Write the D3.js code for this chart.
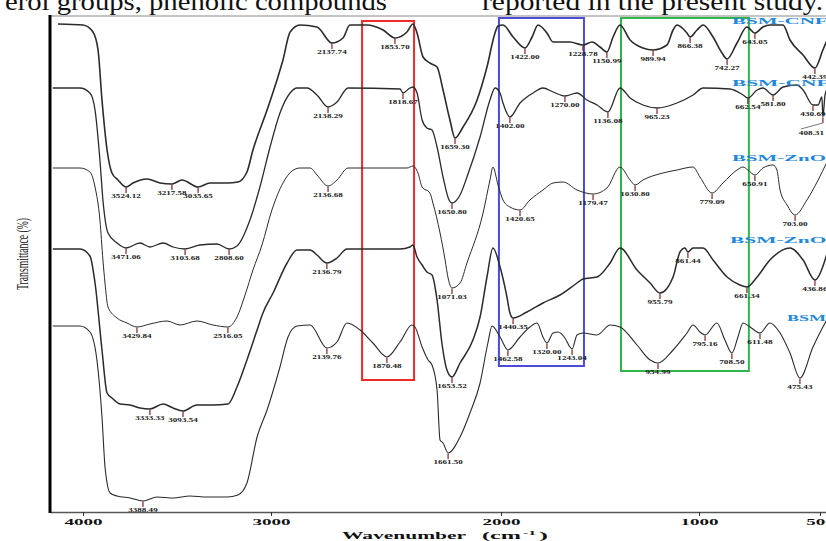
<!DOCTYPE html>
<html>
<head>
<meta charset="utf-8">
<title>FTIR spectra</title>
<style>
body { margin: 0; background: #fff; overflow: hidden; }
svg { display: block; }
.page-text { font: 26px "Liberation Serif", "Times New Roman", serif; fill: #111; }
.spec { fill: none; stroke-linejoin: round; }
.peak { font: bold 6px "Liberation Serif", serif; fill: #222; }
.peak-tick { stroke: #7a2424; stroke-width: 1.2px; }
.sample { font: bold 9px "Liberation Serif", serif; fill: #1f88d9; }
.axis text { font: bold 8px "Liberation Serif", serif; fill: #111; }
.title { font: bold 11px "Liberation Serif", serif; fill: #111; }
</style>
</head>
<body>
<script src="https://cdn.jsdelivr.net/npm/d3@7"></script>
<script>

// axis ticks (wavenumber, cm-1)
var xTicks = [4000, 3000, 2000, 1000, 500];

// sample names, where each name starts (wavenumber) and its level
var sampleNames = ["BSM-CNFs", "BSM-CNFs-ZnO", "BSM-ZnONPs", "BSM-ZnO-CNFs", "BSM"];
var nameAt = [864, 864, 864, 872, 636];
var nameLevel = [97.6, 85.2, 70.2, 53.8, 38.2];

// spectra: [wavenumber, transmittance (arbitrary, stacked)]
var spectrumA = [[4133,97.6],[4000,97.4],[3947,96.0],[3920,92.4],[3899,82.4],[3872,72.4],[3846,67.8],[3814,66.4],[3771,65.0],[3734,65.8],[3660,66.6],[3590,65.8],[3527,65.6],[3473,66.4],[3388,65.0],[3324,65.8],[3234,65.8],[3176,66.0],[3128,68.0],[3096,72.4],[3021,80.4],[2974,86.4],[2948,90.4],[2917,96.0],[2874,97.4],[2800,97.0],[2735,93.8],[2687,94.8],[2657,97.4],[2583,97.4],[2513,96.4],[2461,94.8],[2409,96.0],[2383,97.6],[2365,95.8],[2339,91.0],[2309,89.8],[2278,89.0],[2252,84.4],[2222,78.4],[2200,74.8],[2165,77.0],[2104,82.4],[2061,89.0],[2026,95.8],[2013,97.2],[1990,97.4],[1939,95.0],[1879,92.8],[1843,95.0],[1813,97.4],[1768,95.8],[1737,94.0],[1652,94.0],[1586,93.4],[1540,94.0],[1500,93.0],[1465,92.0],[1434,95.0],[1399,97.4],[1348,94.4],[1283,92.8],[1232,92.4],[1162,93.4],[1131,96.4],[1111,97.4],[1061,95.8],[1045,95.0],[1010,96.4],[983,97.4],[942,95.0],[905,91.8],[884,90.6],[843,93.8],[802,97.0],[769,95.8],[736,97.0],[707,97.4],[653,97.4],[624,94.4],[570,91.4],[521,88.8],[488,92.4],[467,94.8]];

var spectrumB = [[4160,84.8],[4016,84.8],[3963,83.8],[3936,80.4],[3910,70.4],[3894,62.4],[3867,55.8],[3819,53.8],[3771,52.8],[3697,53.8],[3644,53.0],[3574,53.8],[3521,53.0],[3457,52.6],[3378,53.4],[3287,53.6],[3223,52.6],[3181,53.2],[3112,58.4],[3059,65.0],[3005,73.0],[2961,79.8],[2917,83.8],[2887,84.8],[2843,84.8],[2800,83.4],[2752,81.0],[2713,82.0],[2665,84.8],[2439,84.6],[2426,83.8],[2396,84.8],[2383,85.0],[2365,83.8],[2343,78.4],[2322,76.8],[2300,76.4],[2278,73.0],[2252,67.0],[2226,62.4],[2213,61.8],[2178,63.4],[2148,67.0],[2091,75.0],[2048,82.4],[2026,84.8],[2004,83.8],[1990,81.8],[1955,79.0],[1904,81.8],[1869,83.0],[1838,83.8],[1788,84.8],[1737,84.0],[1677,83.2],[1616,83.8],[1566,82.4],[1515,81.4],[1460,80.0],[1399,84.8],[1348,82.8],[1283,81.4],[1212,80.8],[1111,81.8],[1030,83.4],[983,84.8],[872,84.6],[818,83.4],[798,82.8],[760,84.4],[736,84.8],[694,83.4],[653,85.0],[595,85.4],[570,84.4],[529,81.4],[508,81.4],[492,83.0],[488,79.0],[479,83.4],[467,84.8]];

var spectrumC = [[4160,68.8],[4016,68.8],[3963,68.0],[3936,65.0],[3910,58.4],[3894,50.4],[3883,45.8],[3867,41.0],[3819,38.8],[3766,37.8],[3713,37.0],[3644,37.6],[3553,38.2],[3484,37.4],[3394,38.2],[3309,37.4],[3229,37.0],[3181,39.0],[3138,43.4],[3096,48.4],[3048,53.4],[2996,60.4],[2948,65.8],[2909,68.2],[2874,68.8],[2830,68.8],[2800,67.4],[2752,65.2],[2713,66.4],[2665,68.8],[2409,68.8],[2383,69.2],[2361,67.8],[2343,65.0],[2309,63.8],[2296,61.8],[2265,55.8],[2243,50.4],[2230,46.8],[2213,44.8],[2178,45.8],[2148,49.8],[2078,59.8],[2048,66.4],[2035,69.0],[2013,65.4],[1990,62.4],[1955,61.0],[1904,60.4],[1854,62.4],[1788,64.4],[1737,65.8],[1687,66.0],[1616,64.4],[1535,63.6],[1465,64.8],[1399,69.0],[1348,66.4],[1323,65.4],[1283,66.4],[1182,67.8],[1111,68.4],[1030,69.0],[996,67.0],[946,63.8],[901,65.8],[843,68.4],[818,69.0],[798,68.4],[769,67.4],[736,68.8],[694,69.4],[678,68.4],[665,64.4],[636,61.4],[603,59.4],[554,62.4],[512,66.0],[467,70.4]];

var spectrumD = [[4160,52.6],[4016,52.6],[3963,51.2],[3936,45.8],[3899,32.4],[3872,23.8],[3846,22.8],[3803,21.6],[3750,21.4],[3697,20.8],[3644,20.6],[3574,21.6],[3521,20.8],[3468,20.2],[3394,21.4],[3309,21.4],[3229,21.6],[3181,25.0],[3128,30.4],[3074,36.4],[3043,39.8],[2991,43.8],[2930,49.8],[2887,52.4],[2830,52.4],[2800,51.4],[2757,49.8],[2713,50.8],[2670,52.6],[2439,52.6],[2396,53.0],[2383,53.4],[2365,51.0],[2343,49.4],[2322,48.0],[2300,47.4],[2278,42.4],[2257,33.8],[2235,28.4],[2213,27.0],[2178,29.8],[2122,34.4],[2091,39.0],[2061,47.0],[2035,52.8],[2004,49.0],[1970,43.0],[1955,39.8],[1939,38.8],[1869,40.0],[1788,41.8],[1702,43.4],[1616,45.8],[1586,46.6],[1515,47.0],[1449,49.8],[1399,52.8],[1313,48.4],[1247,45.8],[1197,43.8],[1131,47.0],[1096,52.0],[1071,52.8],[1056,52.0],[1030,52.8],[983,52.8],[942,50.4],[884,47.0],[831,45.4],[802,45.0],[760,47.0],[707,50.4],[624,52.8],[570,50.4],[521,46.4],[479,50.4],[467,52.4]];

var spectrumE = [[4160,37.2],[4016,37.2],[3963,36.0],[3926,30.4],[3899,19.0],[3883,9.0],[3872,5.8],[3856,3.8],[3819,3.2],[3750,2.8],[3681,2.2],[3606,3.0],[3521,2.8],[3431,3.2],[3340,3.0],[3234,3.0],[3176,3.4],[3128,5.8],[3074,15.0],[3021,20.4],[2961,29.0],[2926,35.0],[2887,37.2],[2830,37.4],[2757,32.8],[2713,34.0],[2670,37.8],[2613,36.4],[2557,33.8],[2496,31.0],[2439,34.0],[2387,37.4],[2374,37.0],[2343,33.0],[2317,30.4],[2300,29.4],[2278,24.4],[2265,14.4],[2252,13.8],[2230,11.8],[2178,15.0],[2135,19.8],[2091,25.8],[2057,33.8],[2039,37.2],[2004,35.0],[1965,32.4],[1904,35.0],[1854,37.0],[1818,37.8],[1788,35.0],[1768,33.8],[1737,35.8],[1712,36.0],[1677,34.8],[1652,33.0],[1641,32.6],[1616,35.4],[1586,35.8],[1515,35.4],[1449,37.4],[1399,37.0],[1313,33.4],[1247,30.4],[1207,29.8],[1131,32.4],[1061,35.8],[1030,37.4],[996,36.0],[975,35.4],[926,37.8],[893,34.4],[864,31.8],[839,35.0],[818,37.8],[789,37.0],[748,35.8],[707,37.8],[665,35.8],[624,31.8],[583,26.8],[529,33.0],[488,37.0],[467,38.8]];

// peak annotations: [label, wavenumber, transmittance]
var peaksA = [["3524.12",3771,65.0],["3217.58",3527,65.6],["3035.65",3388,65.0],["2137.74",2735,93.8],["1853.70",2461,94.8],["1659.30",2200,74.8],["1422.00",1879,92.8],["1228.78",1586,93.4],["1150.99",1465,92.0],["989.94",1232,92.4],["866.38",1045,95.0],["742.27",884,90.6],["643.05",769,95.8],["442.39",521,88.8]];
var peaksB = [["3471.06",3771,52.8],["3103.68",3457,52.6],["2808.60",3223,52.6],["2138.29",2752,81.0],["1818.67",2426,83.8],["1650.80",2213,61.8],["1402.00",1955,79.0],["1270.00",1677,83.2],["1136.08",1460,80.0],["965.23",1212,80.8],["662.54",798,82.8],["581.80",694,83.4],["430.69",529,81.4],["408.31",488,79.0]];
var peaksC = [["3429.84",3713,37.0],["2516.05",3229,37.0],["2136.68",2752,65.2],["1071.03",2213,44.8],["1420.65",1904,60.4],["1179.47",1535,63.6],["1030.80",1323,65.4],["779.09",946,63.8],["650.91",769,67.4],["703.00",603,59.4]];
var peaksD = [["3333.33",3644,20.6],["3093.54",3468,20.2],["2136.79",2757,49.8],["1653.52",2213,27.0],["1440.35",1939,38.8],["955.79",1197,43.8],["861.44",1056,52.0],["661.34",802,45.0],["436.86",521,46.4]];
var peaksE = [["3388.49",3681,2.2],["2139.76",2757,32.8],["1870.48",2496,31.0],["1661.50",2230,11.8],["1462.58",1965,32.4],["1320.00",1768,33.8],["1243.04",1641,32.6],["954.99",1207,29.8],["795.16",975,35.4],["708.50",864,31.8],["611.48",748,35.8],["475.43",583,26.8]];

// highlighted regions: [from wn, to wn, top, bottom]
var boxes = [[2604, 2378, 98.2, 26.4], [2009, 1581, 98.8, 29.2], [1394, 794, 98.8, 28.2]];
var boxColors = ["#ee2a2a", "#4b4bd6", "#2fb54a"];

var spectra = [spectrumA, spectrumB, spectrumC, spectrumD, spectrumE];
var peaks = [peaksA, peaksB, peaksC, peaksD, peaksE];
var lineWidths = [1.6, 1.3, 1.0, 1.5, 1.1];

var width = 826, height = 541;

var svg = d3.select("body").append("svg")
    .attr("width", width)
    .attr("height", height);

// piecewise wavenumber scale (the printed axis is not uniform)
var x = d3.scaleLinear()
    .domain([4175, 4000, 3000, 2000, 1000, 500, 475])
    .range([50, 83, 271, 501, 699, 820, 826]);

var y = d3.scaleLinear()
    .domain([0, 100])
    .range([512, 12]);

// page text cut off above the figure
svg.append("text").attr("class", "page-text")
    .attr("x", 5).attr("y", 10)
    .attr("textLength", 382).attr("lengthAdjust", "spacingAndGlyphs")
    .text("erol groups, phenolic compounds");
svg.append("text").attr("class", "page-text")
    .attr("x", 482).attr("y", 10)
    .attr("textLength", 341).attr("lengthAdjust", "spacingAndGlyphs")
    .text("reported in the present study.");

// frame
svg.append("line")
    .attr("x1", 50).attr("x2", width).attr("y1", 16).attr("y2", 16)
    .style("stroke", "#888").style("stroke-width", 1);

// boxes
svg.append("g").selectAll("rect")
    .data(boxes)
    .enter().append("rect")
    .attr("x", d => x(d[0]))
    .attr("y", d => y(d[2]))
    .attr("width", d => x(d[1]) - x(d[0]))
    .attr("height", d => y(d[3]) - y(d[2]))
    .style("fill", "none")
    .style("stroke", (d, i) => boxColors[i])
    .style("stroke-width", 2);

var line = d3.line()
    .x(d => x(d[0]))
    .y(d => y(d[1]))
    .curve(d3.curveMonotoneX);

svg.append("g").selectAll("path")
    .data(spectra)
    .enter().append("path")
    .attr("class", "spec")
    .attr("d", line)
    .style("stroke", "#2b2b2b")
    .style("stroke-width", (d, i) => lineWidths[i]);

// peak ticks and labels
var pk = svg.append("g");
peaks.forEach(function(list) {
  list.forEach(function(p) {
    var px = x(p[1]), py = y(p[2]);
    var w = p[0].length * 4.2;
    var lx = px, ly = py + 11;
    pk.append("line")
        .attr("class", "peak-tick")
        .attr("x1", px).attr("x2", px)
        .attr("y1", py + 0.5).attr("y2", py + 6);
    // labels running off the right edge are pulled left with a leader
    if (px + w / 2 > width + 4) {
      lx = width - 2 - w / 2;
      ly = py + 18;
      pk.append("line")
          .attr("x1", px).attr("y1", py + 6)
          .attr("x2", lx - w / 2 + 2).attr("y2", ly - 6)
          .style("stroke", "#555").style("stroke-width", 0.8);
    }
    pk.append("text")
        .attr("class", "peak")
        .attr("x", lx).attr("y", ly)
        .attr("text-anchor", "middle")
        .attr("textLength", w)
        .attr("lengthAdjust", "spacingAndGlyphs")
        .text(p[0]);
  });
});

// sample names
svg.append("g").selectAll("text")
    .data(sampleNames)
    .enter().append("text")
    .attr("class", "sample")
    .attr("x", (d, i) => x(nameAt[i]))
    .attr("y", (d, i) => y(nameLevel[i]))
    .attr("textLength", d => d.length * 13)
    .attr("lengthAdjust", "spacingAndGlyphs")
    .text(d => d);

// x axis
var xAxis = svg.append("g")
    .attr("class", "axis")
    .attr("transform", "translate(0," + y(0) + ")")
    .call(d3.axisBottom(x).tickValues(xTicks).tickSize(4).tickSizeOuter(0).tickFormat(d3.format("d")));
xAxis.select(".domain").style("stroke", "#555").style("stroke-width", 1.5);
xAxis.selectAll(".tick line").style("stroke", "#333");
xAxis.selectAll(".tick text")
    .attr("textLength", d => String(d).length * 9.5)
    .attr("lengthAdjust", "spacingAndGlyphs");

// y axis line (no ticks)
svg.append("line")
    .attr("x1", 50).attr("x2", 50).attr("y1", 15).attr("y2", y(0) + 1)
    .style("stroke", "#000").style("stroke-width", 3);

// axis titles
svg.append("text").attr("class", "title")
    .attr("x", 342).attr("y", 539)
    .attr("textLength", 124).attr("lengthAdjust", "spacingAndGlyphs")
    .text("Wavenumber");
svg.append("text").attr("class", "title")
    .attr("x", 482).attr("y", 539)
    .attr("textLength", 39).attr("lengthAdjust", "spacingAndGlyphs")
    .text("(cm");
svg.append("text").attr("class", "title")
    .attr("x", 523).attr("y", 535)
    .style("font-size", "7px")
    .attr("textLength", 13).attr("lengthAdjust", "spacingAndGlyphs")
    .text("-1");
svg.append("text").attr("class", "title")
    .attr("x", 539).attr("y", 539)
    .attr("textLength", 9).attr("lengthAdjust", "spacingAndGlyphs")
    .text(")");

svg.append("text")
    .attr("transform", "translate(28,254) rotate(-90)")
    .attr("text-anchor", "middle")
    .attr("textLength", 72).attr("lengthAdjust", "spacingAndGlyphs")
    .style("font", "16px 'Liberation Serif', serif")
    .style("fill", "#111")
    .text("Transmittance (%)");

</script>
</body>
</html>
